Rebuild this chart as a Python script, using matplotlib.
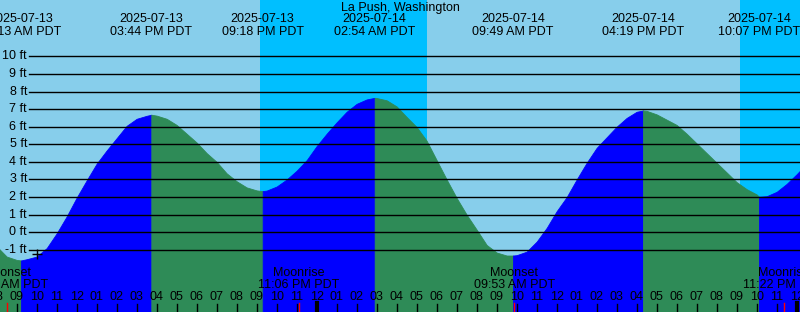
import pandas as pd
import matplotlib
matplotlib.use("Agg")
import matplotlib.pyplot as plt
import matplotlib.dates as mdates
from matplotlib.transforms import blended_transform_factory

plt.rcParams["font.family"] = ["Liberation Sans", "DejaVu Sans"]

title = "La Push, Washington"

# tide extremes
event_times = ["2025-07-13 09:13", "2025-07-13 15:44", "2025-07-13 21:18",
               "2025-07-14 02:54", "2025-07-14 09:49", "2025-07-14 16:19",
               "2025-07-14 22:07"]
event_labels = ["09:13 AM PDT", "03:44 PM PDT", "09:18 PM PDT", "02:54 AM PDT",
                "09:49 AM PDT", "04:19 PM PDT", "10:07 PM PDT"]
event_heights = [-1.6, 6.68, 2.34, 7.64, -1.32, 6.92, 2.02]
event_kinds = ["low", "high", "low", "high", "low", "high", "low"]

# half-hourly readings of the curve (ft), from 2025-07-13 08:00
curve_heights = [-0.8, -1.38, -1.57, -1.53, -1.38, -0.9, -0.06, 0.9, 1.97, 2.95,
                 3.9, 4.65, 5.35, 6.05, 6.45, 6.62, 6.63, 6.45, 6.1, 5.6,
                 5.1, 4.5, 4.0, 3.35, 2.9, 2.55, 2.38, 2.37, 2.6, 3.0,
                 3.5, 4.1, 4.9, 5.6, 6.25, 6.85, 7.3, 7.55, 7.63, 7.5,
                 7.15, 6.55, 5.98, 5.2, 4.1, 3.0, 1.95, 1.0, 0.15, -0.72,
                 -1.15, -1.32, -1.3, -1.1, -0.53, 0.25, 1.2, 2.0, 3.0, 3.95,
                 4.8, 5.4, 6.0, 6.5, 6.85, 6.9, 6.7, 6.4, 6.1, 5.6,
                 5.05, 4.5, 3.95, 3.4, 2.85, 2.45, 2.15, 2.05, 2.3, 2.75,
                 3.3, 3.9]
curve_times = pd.date_range("2025-07-13 08:00", periods=len(curve_heights), freq="30min")

# sun / moon
night_starts = ["2025-07-13 21:11", "2025-07-14 21:10"]
night_ends = ["2025-07-14 05:31", "2025-07-15 05:32"]
moon_times = ["2025-07-13 08:32", "2025-07-13 23:06", "2025-07-14 09:53", "2025-07-14 23:22"]
moon_kinds = ["Moonset", "Moonrise", "Moonset", "Moonrise"]
moon_labels = ["08:32 AM PDT", "11:06 PM PDT", "09:53 AM PDT", "11:22 PM PDT"]
now_time = "2025-07-13 10:01"
now_height = -1.23

start = pd.Timestamp("2025-07-13 08:10")
end = pd.Timestamp("2025-07-15 00:10")
ft_levels = list(range(-1, 11))

DAY = "#87CEEB"
NIGHT = "#00BFFF"
RISE = "#0000FF"
FALL = "#2E8B57"
FS = 9
YMIN, YMAX = -4.53, 13.2

def num(t):
    return mdates.date2num(pd.Timestamp(t))

fig = plt.figure(figsize=(8, 3.12), dpi=100)
ax = fig.add_axes([0, 0, 1, 1])
ax.set_facecolor(DAY)
ax.set_xlim(num(start), num(end))
ax.set_ylim(YMIN, YMAX)
for s in ax.spines.values():
    s.set_visible(False)

for a, b in zip(night_starts, night_ends):
    ax.axvspan(num(a), num(b), color=NIGHT, lw=0, zorder=0)

# tide curve, split at the extremes
df = pd.DataFrame({
    "t": [num(t) for t in curve_times] + [num(t) for t in event_times],
    "h": curve_heights + event_heights,
}).sort_values("t")
bounds = [df.t.min()] + [num(t) for t in event_times] + [df.t.max()]
kinds = event_kinds + ["high" if event_kinds[-1] == "low" else "low"]
for i in range(len(bounds) - 1):
    seg = df[(df.t >= bounds[i]) & (df.t <= bounds[i + 1])]
    col = RISE if kinds[i] == "high" else FALL
    ax.fill_between(seg.t, seg.h, YMIN, color=col, lw=0.6, ec=col, zorder=1)

# grid + y labels
yl = blended_transform_factory(ax.transAxes, ax.transData)
for f in ft_levels:
    ax.axhline(f, xmin=29 / 800, color="black", lw=1, zorder=2)
    ax.text(27 / 800, f, f"{f} ft", transform=yl, ha="right", va="center", fontsize=FS)

xt = blended_transform_factory(ax.transData, ax.transAxes)

# title + tide event labels
ax.text(0.5, 1 - 7.5 / 312, title, transform=ax.transAxes, ha="center", va="center", fontsize=FS)
for t, lab in zip(event_times, event_labels):
    ax.text(num(t), 1 - 19.5 / 312, pd.Timestamp(t).strftime("%Y-%m-%d"),
            transform=xt, ha="center", va="center", fontsize=FS)
    ax.text(num(t), 1 - 32 / 312, lab, transform=xt, ha="center", va="center", fontsize=FS)

# moon labels and marks
for t, k, lab in zip(moon_times, moon_kinds, moon_labels):
    ax.text(num(t), 1 - 273.5 / 312, k, transform=xt, ha="center", va="center", fontsize=FS)
    ax.text(num(t), 1 - 285 / 312, lab, transform=xt, ha="center", va="center", fontsize=FS)
    ax.axvline(num(t), ymin=0, ymax=9 / 312, color="red", lw=1, zorder=3)

# hour ticks and labels
hours = pd.date_range("2025-07-13 08:00", "2025-07-15 00:00", freq="h")
for h in hours:
    ax.text(num(h), 1 - 297 / 312, h.strftime("%I"), transform=xt,
            ha="center", va="center", fontsize=FS)
    ax.axvline(num(h), ymin=0, ymax=8 / 312, color="black", lw=1, zorder=3)
    if h.hour == 0:
        ax.axvline(num(h), ymin=0, ymax=9 / 312, color="black", lw=3, zorder=3)

ax.plot([num(now_time)], [now_height], marker="+", ms=7, mew=1, color="black", zorder=4)

ax.set_xticks([])
ax.set_yticks([])
fig.savefig("out.png", dpi=100)
